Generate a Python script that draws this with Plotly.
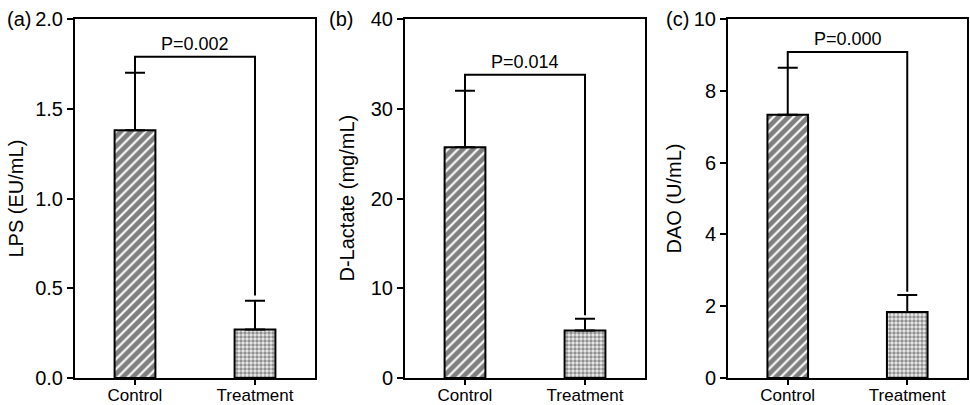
import plotly.graph_objects as go

categories = ["Control", "Treatment"]

# Panel (a) LPS
lps_mean = [1.38, 0.27]
lps_err = [0.32, 0.16]
lps_bracket = [1.79, 0.46]  # bracket height, right drop end
lps_p = "P=0.002"

# Panel (b) D-Lactate
dlac_mean = [25.7, 5.3]
dlac_err = [6.3, 1.3]
dlac_bracket = [33.8, 7.0]
dlac_p = "P=0.014"

# Panel (c) DAO
dao_mean = [7.33, 1.84]
dao_err = [1.31, 0.47]
dao_bracket = [9.08, 2.4]
dao_p = "P=0.000"

panels = [
    dict(mean=lps_mean, err=lps_err, br=lps_bracket, p=lps_p, title="LPS (EU/mL)",
         label="(a)", yrange=[0, 2.0], dtick=0.5, fmt=".1f"),
    dict(mean=dlac_mean, err=dlac_err, br=dlac_bracket, p=dlac_p, title="D-Lactate (mg/mL)",
         label="(b)", yrange=[0, 40], dtick=10, fmt="d"),
    dict(mean=dao_mean, err=dao_err, br=dao_bracket, p=dao_p, title="DAO (U/mL)",
         label="(c)", yrange=[0, 10], dtick=2, fmt="d"),
]

W, H = 970, 405
x_domains = [[75 / W, 315 / W], [405 / W, 645 / W], [728 / W, 967 / W]]
y_domain = [1 - 378 / H, 1 - 19 / H]
title_x = [15, 346, 673]
label_x = [19, 341, 677]

FONT = "Liberation Sans, Arial, sans-serif"

fig = go.Figure()
annotations = []
patterns = [
    dict(shape="/", fgcolor="black", bgcolor="white", size=7, solidity=0.7),
    dict(shape=".", fgcolor="#333333", bgcolor="#eeeeee", size=4, solidity=0.6),
]

for i, pnl in enumerate(panels):
    xa = "x" if i == 0 else f"x{i+1}"
    ya = "y" if i == 0 else f"y{i+1}"
    for j, cat in enumerate(categories):
        fig.add_trace(go.Bar(
            x=[cat], y=[pnl["mean"][j]], xaxis=xa, yaxis=ya, width=0.34,
            marker=dict(color="white", line=dict(color="black", width=2),
                        pattern=patterns[j]),
            error_y=dict(type="data", array=[pnl["err"][j]], arrayminus=[0],
                         symmetric=False, color="black", thickness=2, width=10),
            showlegend=False, hoverinfo="skip",
        ))
    top_left = pnl["mean"][0] + pnl["err"][0]
    fig.add_trace(go.Scatter(
        x=[categories[0], categories[0], categories[1], categories[1]],
        y=[top_left, pnl["br"][0], pnl["br"][0], pnl["br"][1]],
        mode="lines", line=dict(color="black", width=2),
        xaxis=xa, yaxis=ya, showlegend=False, hoverinfo="skip",
    ))
    annotations.append(dict(
        x=0.5, y=pnl["br"][0], xref=xa, yref=ya, text=pnl["p"], showarrow=False,
        yanchor="bottom", yshift=1, font=dict(family=FONT, size=18, color="black"),
    ))
    annotations.append(dict(
        x=title_x[i] / W, y=(y_domain[0] + y_domain[1]) / 2, xref="paper", yref="paper",
        text=pnl["title"], textangle=-90, showarrow=False, xanchor="center", yanchor="middle",
        font=dict(family=FONT, size=20, color="black"),
    ))
    annotations.append(dict(
        x=label_x[i] / W, y=1 - 19 / H, xref="paper", yref="paper",
        text=pnl["label"], showarrow=False, xanchor="center", yanchor="middle",
        font=dict(family=FONT, size=20, color="black"),
    ))
    axis_common = dict(showline=True, linecolor="black", linewidth=2, mirror=True,
                       showgrid=False, zeroline=False, ticks="outside", tickwidth=2,
                       tickcolor="black", automargin=False)
    fig.update_layout(**{
        ("xaxis" if i == 0 else f"xaxis{i+1}"): dict(
            domain=x_domains[i], range=[-0.5, 1.5], anchor=ya, type="category",
            ticklen=5, ticklabelstandoff=-4,
            tickfont=dict(family=FONT, size=17, color="black"), **axis_common),
        ("yaxis" if i == 0 else f"yaxis{i+1}"): dict(
            domain=y_domain, range=pnl["yrange"], dtick=pnl["dtick"], tick0=0,
            tickformat=pnl["fmt"], anchor=xa, ticklen=6,
            tickfont=dict(family=FONT, size=20, color="black"), **axis_common),
    })

fig.update_layout(
    width=W, height=H, margin=dict(l=0, r=0, t=0, b=0),
    plot_bgcolor="white", paper_bgcolor="white",
    annotations=annotations, barmode="overlay",
)

fig.write_html("out.html")
